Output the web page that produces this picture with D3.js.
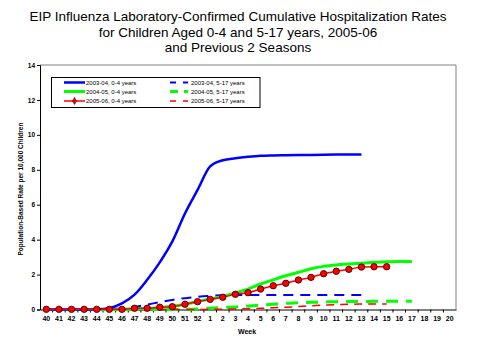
<!DOCTYPE html>
<html><head><meta charset="utf-8">
<script src="https://cdn.jsdelivr.net/npm/d3@7"></script>
<style>body{margin:0;background:#fff}svg{display:block}text{font-family:Arial,"Liberation Sans",sans-serif}</style>
</head><body><svg id="c" width="480" height="360"></svg>
<script>
const weeks = ["40","41","42","43","44","45","46","47","48","49","50","51","52","1","2","3","4","5","6","7","8","9","10","11","12","13","14","15","16","17","18","19","20"];
const yTicks = [0,2,4,6,8,10,12,14];
const s0304_04 = [0,0,0,0,0.01,0.08,0.35,0.85,1.7,2.7,3.9,5.5,6.85,8.2,8.55,8.66,8.74,8.8,8.82,8.83,8.84,8.85,8.86,8.87,8.88,8.88];
const s0304_517 = [0,0,0,0,0,0.02,0.06,0.15,0.28,0.42,0.55,0.65,0.73,0.78,0.81,0.82,0.83,0.83,0.83,0.83,0.83,0.83,0.83,0.83,0.83,0.83];
const s0405_04 = [0,0,0,0,0,0.01,0.02,0.04,0.06,0.1,0.18,0.3,0.45,0.6,0.75,0.95,1.17,1.46,1.7,1.93,2.13,2.33,2.47,2.55,2.6,2.65,2.7,2.73,2.75,2.75];
const s0405_517 = [0,0,0,0,0,0,0,0,0,0,0,0.01,0.03,0.07,0.11,0.15,0.2,0.25,0.3,0.35,0.39,0.41,0.43,0.45,0.46,0.46,0.47,0.47,0.47,0.48];
const s0506_04 = [0.01,0.01,0.01,0.01,0.01,0.01,0.01,0.07,0.07,0.13,0.16,0.3,0.45,0.58,0.7,0.87,0.96,1.17,1.36,1.5,1.69,1.84,2.05,2.19,2.3,2.43,2.45,2.45];
const s0506_517 = [0,0,0,0,0,0,0,0,0,0,0,0,0,0.01,0.02,0.03,0.05,0.07,0.1,0.13,0.17,0.21,0.25,0.28,0.3,0.31,0.32,0.32];
const seriesNames = ["2003-04, 0-4 years","2003-04, 5-17 years","2004-05, 0-4 years","2004-05, 5-17 years","2005-06, 0-4 years","2005-06, 5-17 years"];

const series = [
  {name:seriesNames[0], data:s0304_04, color:"#0000ff", w:2.5, dash:null},
  {name:seriesNames[1], data:s0304_517, color:"#0000ff", w:2, dash:"10,7"},
  {name:seriesNames[2], data:s0405_04, color:"#00ff00", w:3, dash:null},
  {name:seriesNames[3], data:s0405_517, color:"#00ff00", w:3, dash:"12,8"},
  {name:seriesNames[4], data:s0506_04, color:"#ff0000", w:1.5, dash:null, marker:true},
  {name:seriesNames[5], data:s0506_517, color:"#ff0000", w:1.5, dash:"8,6"}
];

const svg = d3.select("#c");
const L=40, R=456, T=65, B=309.5;
const x = d3.scaleBand().domain(weeks).range([L,R]).padding(0);
const y = d3.scaleLinear().domain([0,14]).range([B,T]);
const cx = w => x(w)+x.bandwidth()/2;

// title
const title = ["EIP Influenza Laboratory-Confirmed Cumulative Hospitalization Rates","for Children Aged 0-4 and 5-17 years, 2005-06","and Previous 2 Seasons"];
svg.append("g").selectAll("text").data(title).join("text")
  .attr("x",238).attr("y",(d,i)=>21+i*15.5).attr("text-anchor","middle")
  .attr("font-size",13.5).attr("fill","#000").text(d=>d);

// border top/right
svg.append("path").attr("d",`M${L},${T}H${R}V${B}`).attr("fill","none").attr("stroke","#808080").attr("stroke-width",1);

// y axis
const ya = svg.append("g").attr("transform",`translate(${L},0)`)
  .call(d3.axisLeft(y).tickValues(yTicks).tickSize(3).tickPadding(2).tickFormat(d3.format("d")));
ya.select(".domain").attr("stroke","#000");
ya.selectAll("text").attr("font-size",6.5).attr("font-weight","bold").attr("font-family","Arial");

// x axis
const xa = svg.append("g").attr("transform",`translate(0,${B})`)
  .call(d3.axisBottom(x).tickSize(0).tickPadding(7));
xa.select(".domain").attr("stroke","#000");
xa.selectAll("text").attr("font-size",7).attr("font-weight","bold").attr("font-family","Arial");
svg.append("g").selectAll("line").data(weeks.slice(1)).join("line")
  .attr("x1",d=>x(d)).attr("x2",d=>x(d)).attr("y1",B).attr("y2",B+3).attr("stroke","#000");

// axis titles
svg.append("text").attr("x",247).attr("y",334).attr("text-anchor","middle")
  .attr("font-size",7).attr("font-weight","bold").text("Week");
svg.append("text").attr("transform","translate(23,189) rotate(-90)").attr("text-anchor","middle")
  .attr("font-size",6.5).attr("font-weight","bold").text("Population-Based Rate per 10,000 Children");

// lines
const line = d3.line().x((d,i)=>cx(weeks[i])).y(d=>y(d)).curve(d3.curveMonotoneX);
const order = [1,3,5,2,0,4];
order.forEach(k=>{
  const s = series[k];
  svg.append("path").datum(s.data).attr("d",line).attr("fill","none")
    .attr("stroke",s.color).attr("stroke-width",s.w)
    .attr("stroke-dasharray",s.dash);
  if(s.marker){
    svg.append("g").selectAll("circle").data(s.data).join("circle")
      .attr("cx",(d,i)=>cx(weeks[i])).attr("cy",d=>y(d)).attr("r",3.2)
      .attr("fill","#ff0000").attr("stroke","#400000").attr("stroke-width",0.9);
  }
});

// legend
const lg = svg.append("g");
lg.append("rect").attr("x",51.5).attr("y",77.5).attr("width",208.5).attr("height",30)
  .attr("fill","#fff").attr("stroke","#000").attr("stroke-width",1);
const pos = [[0,0],[1,0],[0,1],[1,1],[0,2],[1,2]];
const rowY = [82.5,91.5,101];
series.forEach((s,i)=>{
  const [c,r] = pos[i];
  const x0 = c===0?64:170, x1 = c===0?85:188, tx = c===0?86:191;
  lg.append("line").attr("x1",x0).attr("x2",x1).attr("y1",rowY[r]).attr("y2",rowY[r])
    .attr("stroke",s.color).attr("stroke-width",s.w)
    .attr("stroke-dasharray",s.dash? (c===1? (s.color==="#00ff00"?"8,6":"6,7"):s.dash):null);
  if(s.marker){
    lg.append("path").attr("d",d3.symbol(d3.symbolDiamond,14)())
      .attr("transform",`translate(${(x0+x1)/2},${rowY[r]})`).attr("fill","#ff0000").attr("stroke","#400000").attr("stroke-width",0.6);
  }
  lg.append("text").attr("x",tx).attr("y",rowY[r]+2.2).attr("font-size",6).attr("font-family","Arial").text(s.name);
});
</script></body></html>
